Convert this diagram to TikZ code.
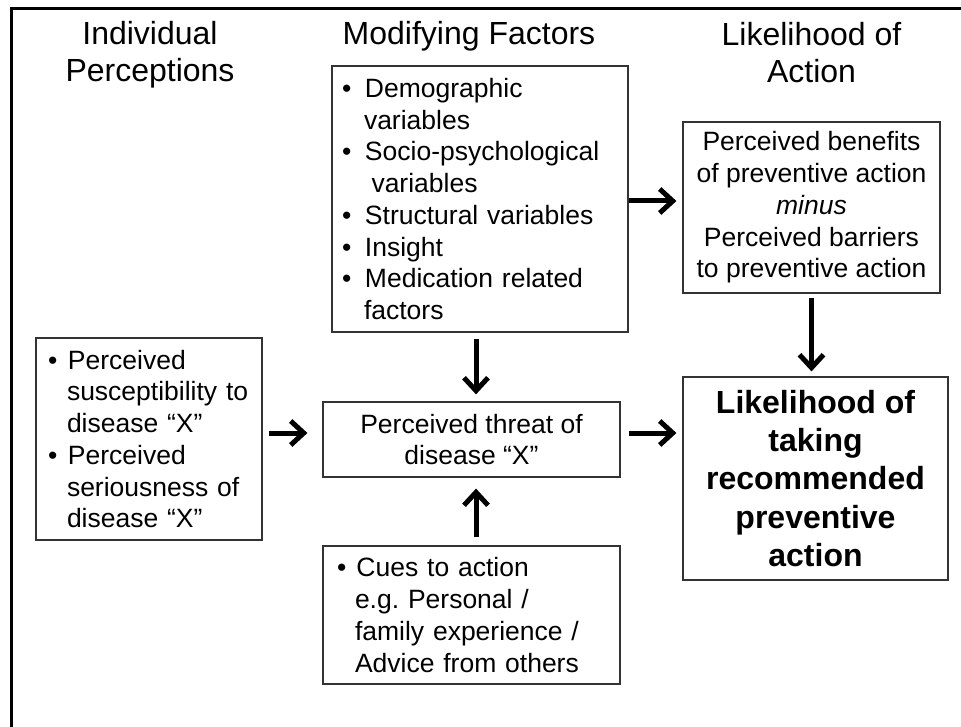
\documentclass[tikz,border=0pt]{standalone}
\usepackage{fontspec}
\setmainfont{Liberation Sans}
\usetikzlibrary{arrows.meta}

\newcommand{\bul}[1]{\makebox[#1][l]{\textbullet}}
\newcommand{\ind}[1]{\hspace*{#1}}

\begin{document}
\frenchspacing
\begin{tikzpicture}[x=1pt,y=-1pt,
  head/.style={align=center,font=\fontsize{32}{37}\selectfont},
  box/.style={draw=black!80,line width=1.2pt,inner ysep=0pt,font=\fontsize{26.5}{31.7}\selectfont},
  arr/.style={line width=5pt,-{Straight Barb[length=13pt,width=24pt]}}]

\useasboundingbox (0,0) rectangle (961,727);
\draw[line width=3pt] (11,727) -- (11,9) -- (961,9);

% column heads
\node[head,anchor=base] (hperc) at (150,82) {Individual\\Perceptions};
\node[head,anchor=base] (hmod) at (469,45) {Modifying Factors};
\node[head,anchor=base] (hlike) at (811.5,83) {Likelihood of\\Action};

% boxes
\node[box,text width=276pt,inner xsep=10pt,minimum height=266pt,align=left] (mod) at (480,199)
  {\bul{23pt}Demographic\\\ind{22pt}variables\\\bul{23pt}Socio-psychological\\\ind{29.5pt}variables\\\bul{23pt}Structural variables\\\bul{23pt}Insight\\\bul{23pt}Medication related\\\ind{22pt}factors};
\node[box,minimum width=257pt,minimum height=171pt,align=center] (benefit) at (811.5,207.5)
  {Perceived benefits\\of preventive action\\\textit{minus}\\Perceived barriers\\to preventive action};
\node[box,text width=202pt,inner xsep=12pt,minimum height=202pt,align=left] (perc) at (149,439)
  {\bul{20pt}Perceived\\\ind{19pt}susceptibility to\\\ind{19pt}disease “X”\\\bul{20pt}Perceived\\\ind{19pt}seriousness of\\\ind{19pt}disease “X”};
\node[box,minimum width=297pt,minimum height=75pt,align=center] (threat) at (471.5,439.5)
  {Perceived threat of\\disease “X”};
\node[box,text width=269pt,inner xsep=14pt,minimum height=138pt,align=left] (cues) at (471.5,615)
  {\bul{19.5pt}Cues to action\\\ind{18pt}e.g. Personal /\\\ind{18pt}family experience /\\\ind{18pt}Advice from others};
\node[box,minimum width=265pt,minimum height=203pt,align=center,font=\bfseries\fontsize{32}{38.3}\selectfont] (result) at (815.5,478.5)
  {Likelihood of\\taking\\recommended\\preventive\\action};

% arrows
\draw[arr,shorten >=6pt] ([yshift=-2pt]mod.east) -- ([yshift=-2pt]mod.east -| benefit.west);
\draw[arr,shorten <=4pt,shorten >=5pt] (benefit.south) -- (benefit.south |- result.north);
\draw[arr,shorten <=6pt,shorten >=7pt] ([xshift=-4pt]mod.south) -- ([xshift=-4pt]mod.south |- threat.north);
\draw[arr,shorten <=8pt,shorten >=11pt] ([xshift=4.5pt]cues.north) -- ([xshift=4.5pt]cues.north |- threat.south);
\draw[arr,shorten <=6pt,shorten >=15pt] ([yshift=6pt]perc.east) -- ([yshift=6pt]perc.east -| threat.west);
\draw[arr,shorten <=8pt,shorten >=6pt] ([yshift=6.5pt]threat.east) -- ([yshift=6.5pt]threat.east -| result.west);

\end{tikzpicture}
\end{document}
